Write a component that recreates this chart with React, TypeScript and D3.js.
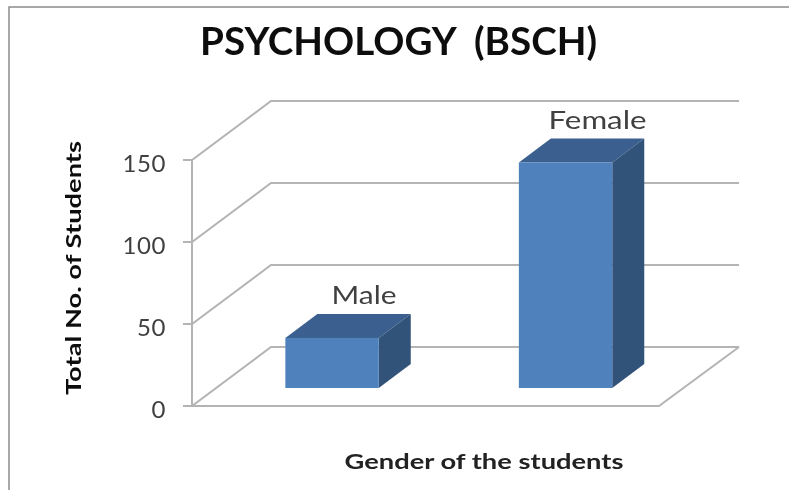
import React from "react";
import * as d3 from "d3";

const categories = ["Male", "Female"];
const values = [30.5, 137.5];
const labelWidths = [65, 98];
const yTicks = [0, 50, 100, 150];
const titleText = "PSYCHOLOGY  (BSCH)";
const xTitle = "Gender of the students";
const yTitle = "Total No. of Students";

const W = 789, H = 490;
const FONT = "Lato, 'Open Sans', sans-serif";
const GRID = "#b4b4b4";
const TXT = "#404040";

const y = d3.scaleLinear().domain([0, 150]).range([406, 160]);
const front = { x0: 192, x1: 659 };
const wall = { dx: 79, dy: -59 };
const barShift = { dx: 23.3, dy: -18 };
const barDepth = { dx: 32, dy: -24 };
const x = d3.scaleBand<string>().domain(categories)
  .range([front.x0 + barShift.dx, front.x1 + barShift.dx])
  .paddingInner(0.6).paddingOuter(0.3);

const line = d3.line<[number, number]>();
const poly = (p: [number, number][]) => line(p) + "Z";

export default function App() {
  const base = y(0) + barShift.dy;
  return (
    <svg width={W} height={H} style={{ position: "absolute", left: 0, top: 0, background: "#fff" }} fontFamily={FONT}>
      <defs>
        <filter id="soft" x="-5%" y="-5%" width="110%" height="110%">
          <feGaussianBlur stdDeviation="0.5" />
        </filter>
      </defs>
      <g filter="url(#soft)">
        <path d={`M9,${H}V7H${W}`} fill="none" stroke="#8c8c8c" strokeWidth={1.5} />
        <text x={398.5} y={55} textAnchor="middle" fontSize={38} fontWeight={700} fill="#111" textLength={397} lengthAdjust="spacingAndGlyphs" xmlSpace="preserve">{titleText}</text>

        <path d={`M${front.x0},${y(150)}V${y(0)}`} fill="none" stroke={GRID} strokeWidth={2} />
        {yTicks.map((t) => (
          <g key={t}>
            <path
              d={line([[front.x0 - 9, y(t)], [front.x0, y(t)], [front.x0 + wall.dx, y(t) + wall.dy], [739, y(t) + wall.dy]]) as string}
              fill="none" stroke={GRID} strokeWidth={2}
            />
            <text x={166} y={y(t) + 12} textAnchor="end" fontSize={24} letterSpacing={0.6} fill={TXT}>{t}</text>
          </g>
        ))}
        <path d={line([[front.x0, y(0)], [front.x1, y(0)], [739, y(0) + wall.dy]]) as string} fill="none" stroke={GRID} strokeWidth={2} />

        {categories.map((c, i) => {
          const xl = x(c) as number;
          const xr = xl + x.bandwidth();
          const top = y(values[i]) + barShift.dy;
          const { dx, dy } = barDepth;
          return (
            <g key={c}>
              <path d={poly([[xl, top], [xl + dx, top + dy], [xr + dx, top + dy], [xr, top]])} fill="#3b6190" />
              <path d={poly([[xr, top], [xr + dx, top + dy], [xr + dx, base + dy], [xr, base]])} fill="#325279" />
              <rect x={xl} y={top} width={x.bandwidth()} height={base - top} fill="#4f81bd" />
              <text x={(xl + xr) / 2 + 32} y={top + dy - 10} textAnchor="middle" fontSize={25} fill={TXT} textLength={labelWidths[i]} lengthAdjust="spacingAndGlyphs">{c}</text>
            </g>
          );
        })}

        <text x={484} y={469} textAnchor="middle" fontSize={21.5} fontWeight={700} fill="#222" textLength={279} lengthAdjust="spacingAndGlyphs">{xTitle}</text>
        <text transform="translate(81,268) rotate(-90)" textAnchor="middle" fontSize={21.5} fontWeight={700} fill="#111" textLength={254} lengthAdjust="spacingAndGlyphs">{yTitle}</text>
      </g>
    </svg>
  );
}
